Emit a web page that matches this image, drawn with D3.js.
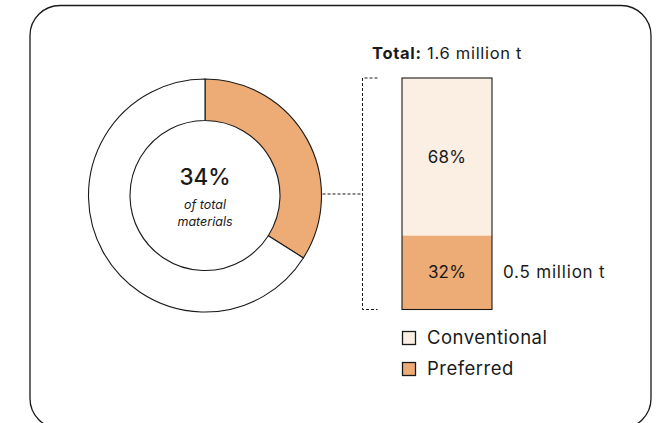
<!DOCTYPE html>
<html><head><meta charset="utf-8">
<script src="https://cdn.jsdelivr.net/npm/d3@7"></script>
<style>
html,body{margin:0;padding:0;background:#fff;}
svg{display:block;font-family:Inter,"Noto Sans",sans-serif;}
</style></head>
<body>
<svg id="chart" width="657" height="423"></svg>
<script>
// ---- data ----
const donutCategories = ["Preferred", "Conventional"];
const donutValues = [34, 66];
const donutLabel = "34%";
const donutSub = ["of total", "materials"];
const barCategories = ["Preferred", "Conventional"];
const barValues = [32, 68];
const barLabels = ["32%", "68%"];
const totalLabel = "1.6 million t";
const preferredAmount = "0.5 million t";
const legendLabels = ["Conventional", "Preferred"];

const colors = { Preferred: "#EDAB76", Conventional: "#FBEEE3" };
const ink = "#1a1a1a";

const svg = d3.select("#chart");

// frame
svg.append("rect").attr("x", 30).attr("y", 5.5).attr("width", 621).attr("height", 423)
  .attr("rx", 30).attr("ry", 30).attr("fill", "none").attr("stroke", ink).attr("stroke-width", 1.3);

// ---- donut ----
const cx = 205, cy = 195.5, rOuter = 116.5, rInner = 75;
const pie = d3.pie().sort(null).value(d => d.v);
const arc = d3.arc().innerRadius(rInner).outerRadius(rOuter);
const donutData = donutCategories.map((c, i) => ({ c, v: donutValues[i] }));
const g = svg.append("g").attr("transform", `translate(${cx},${cy})`);
g.selectAll("path").data(pie(donutData)).join("path")
  .attr("d", arc)
  .attr("fill", d => d.data.c === "Preferred" ? colors.Preferred : "#fff")
  .attr("stroke", ink).attr("stroke-width", 1.1);

g.append("text").attr("y", -11).attr("text-anchor", "middle")
  .attr("font-size", 22.5).attr("font-weight", 500).attr("fill", ink).text(donutLabel);
g.append("text").attr("y", 13.5).attr("text-anchor", "middle")
  .attr("font-size", 12.5).attr("font-style", "italic").attr("fill", ink).text(donutSub[0]);
g.append("text").attr("y", 30.5).attr("text-anchor", "middle")
  .attr("font-size", 12.5).attr("font-style", "italic").attr("fill", ink).text(donutSub[1]);

// ---- stacked bar ----
const bx = 402, bw = 90;
const y = d3.scaleLinear().domain([0, 100]).range([309.5, 78]);
let acc = 0;
const stacks = barCategories.map((c, i) => {
  const s = { c, y0: acc, y1: acc + barValues[i], label: barLabels[i] };
  acc += barValues[i];
  return s;
});
svg.selectAll("rect.seg").data(stacks).join("rect").attr("class", "seg")
  .attr("x", bx).attr("width", bw)
  .attr("y", d => y(d.y1)).attr("height", d => y(d.y0) - y(d.y1))
  .attr("fill", d => colors[d.c]);
svg.append("rect").attr("x", bx).attr("y", y(100)).attr("width", bw).attr("height", y(0) - y(100))
  .attr("fill", "none").attr("stroke", ink).attr("stroke-width", 1.1);
svg.selectAll("text.seg").data(stacks).join("text").attr("class", "seg")
  .attr("x", bx + bw / 2).attr("y", d => (y(d.y0) + y(d.y1)) / 2 + 6)
  .attr("text-anchor", "middle").attr("font-size", 17).attr("letter-spacing", 0.2).attr("fill", ink)
  .text(d => d.label);

// amount next to preferred
svg.append("text").attr("x", 503).attr("y", (y(stacks[0].y0) + y(stacks[0].y1)) / 2 + 6)
  .attr("font-size", 17).attr("letter-spacing", 0.8).attr("fill", ink).text(preferredAmount);

// total title
const t = svg.append("text").attr("x", 372).attr("y", 58.5).attr("font-size", 16.5)
  .attr("letter-spacing", 0.7).attr("fill", ink);
t.append("tspan").attr("font-weight", 700).text("Total:");
t.append("tspan").text(" " + totalLabel);

// bracket (dotted)
const dash = "3,2";
const brX = 362.5;
svg.append("path")
  .attr("d", `M${brX + 15},${y(100)} H${brX} V${y(0)} H${brX + 15}`)
  .attr("fill", "none").attr("stroke", ink).attr("stroke-width", 1).attr("stroke-dasharray", dash);
svg.append("line").attr("x1", cx + rOuter + 1).attr("x2", brX).attr("y1", 194).attr("y2", 194)
  .attr("stroke", ink).attr("stroke-width", 1).attr("stroke-dasharray", dash);

// legend
const lg = svg.selectAll("g.leg").data(legendLabels).join("g").attr("class", "leg")
  .attr("transform", (d, i) => `translate(402,${331 + i * 31})`);
lg.append("rect").attr("x", 0.5).attr("y", 0.5).attr("width", 13).attr("height", 13)
  .attr("fill", d => colors[d]).attr("stroke", ink).attr("stroke-width", 1.3);
lg.append("text").attr("x", 25).attr("y", 13).attr("font-size", 18.5).attr("letter-spacing", 0.5)
  .attr("fill", ink).text(d => d);
</script>
</body></html>
